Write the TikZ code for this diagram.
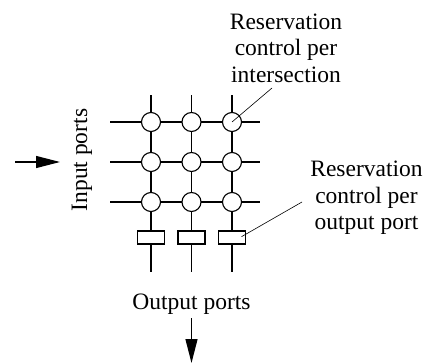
\documentclass[tikz,border=0pt]{standalone}
\usepackage{fontspec}
\setmainfont{Liberation Serif}
\usetikzlibrary{arrows.meta}
\begin{document}
\begin{tikzpicture}[x=1pt,y=-1pt,
  wire/.style={line width=1.2pt},
  xnode/.style={circle,draw,line width=1.1pt,fill=white,minimum size=19pt,inner sep=0pt},
  rnode/.style={rectangle,draw,line width=1.1pt,fill=white,minimum width=27pt,minimum height=13pt,inner sep=0pt},
  lbl/.style={font=\fontsize{23.5}{26.5}\selectfont,align=center,inner sep=0pt},
  leader/.style={line width=0.6pt},
  bigarrow/.style={line width=1.2pt,-{Triangle[length=24pt,width=12pt]}}]
\useasboundingbox (0,0) rectangle (429,364);
% wire ends
\foreach \r/\y in {1/122,2/162,3/202}{
  \coordinate (hl\r) at (110,\y);
  \coordinate (hr\r) at (260,\y);
  \draw[wire] (hl\r) -- (hr\r);
}
\foreach \c/\x in {1/151,2/191.5,3/232}{
  \coordinate (vt\c) at (\x,95);
  \coordinate (vb\c) at (\x,272);
  \draw[wire] (vt\c) -- (vb\c);
}
% intersections
\foreach \r/\y in {1/122,2/162,3/202}{
  \foreach \c/\x in {1/151,2/191.5,3/232}{
    \node[xnode] (c\r\c) at (\x,\y) {};
  }
}
% output port controls
\foreach \c/\x in {1/151,2/191.5,3/232}{
  \node[rnode] (r\c) at (\x,237.5) {};
}
% labels
\node[lbl] (lab1) at (286,48) {Reservation\\control per\\intersection};
\node[lbl] (lab2) at (366.5,198) {Reservation\\control per\\output port};
\node[lbl,rotate=90] (inp) at (82,160) {Input ports};
\node[lbl] (outp) at (191.5,304) {Output ports};
% leaders
\coordinate (l1e) at (272,88);
\draw[leader] (c13.center) -- (l1e);
\coordinate (l2s) at (241.5,236.7);
\coordinate (l2e) at (302,202);
\draw[leader] (l2s) -- (l2e);
% port arrows
\coordinate (ia) at (15,162);
\coordinate (ib) at (60,162);
\draw[bigarrow] (ia) -- (ib);
\coordinate (oa) at (191.5,318);
\coordinate (ob) at (191.5,363);
\draw[bigarrow] (oa) -- (ob);
\end{tikzpicture}
\end{document}
